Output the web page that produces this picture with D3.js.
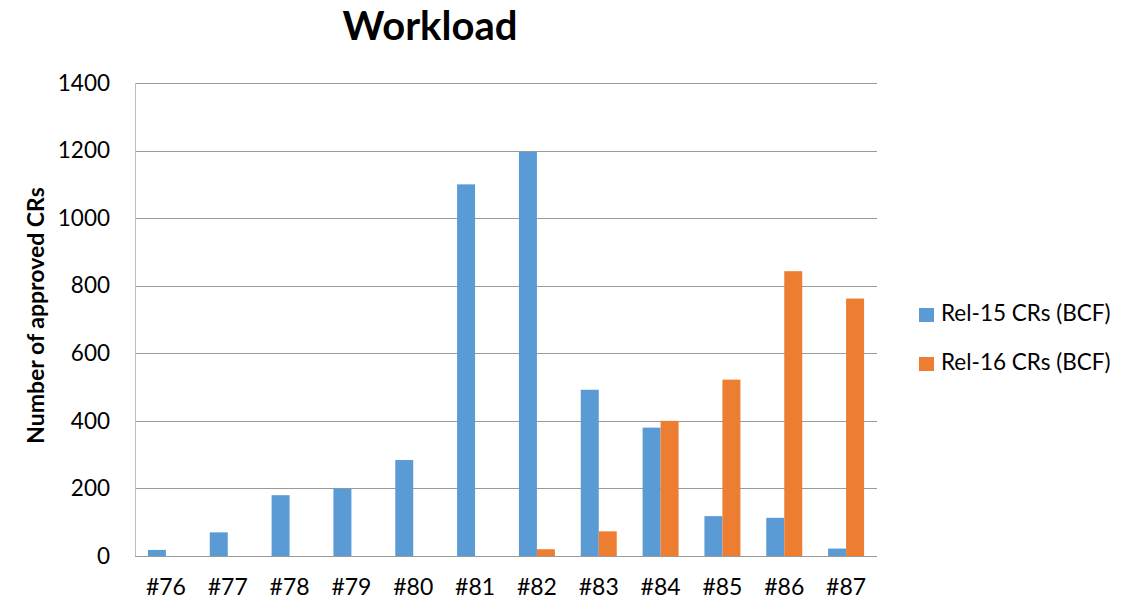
<!DOCTYPE html>
<html>
<head>
<meta charset="utf-8">
<script src="https://cdn.jsdelivr.net/npm/d3@7"></script>
<style>
  html, body { margin: 0; padding: 0; background: #fff; }
  svg { display: block; font-family: Lato, "Open Sans", sans-serif; }
</style>
</head>
<body>
<svg id="chart" width="1135" height="601"></svg>
<script>
// Meeting numbers on the x axis
const meetings = ["#76", "#77", "#78", "#79", "#80", "#81", "#82", "#83", "#84", "#85", "#86", "#87"];
// Approved CRs per meeting, per release
const rel15 = [18, 70, 180, 200, 284, 1100, 1196, 492, 380, 118, 113, 22];
const rel16 = [0, 0, 0, 0, 0, 0, 20, 73, 400, 522, 843, 762];
const seriesNames = ["Rel-15 CRs (BCF)", "Rel-16 CRs (BCF)"];
const seriesColors = ["#5B9BD5", "#ED7D31"];
const yTicks = [0, 200, 400, 600, 800, 1000, 1200, 1400];

const svg = d3.select("#chart");
const plot = { left: 135, right: 877, top: 83, bottom: 556 };

const x = d3.scaleBand()
  .domain(meetings)
  .range([plot.left, plot.right])
  .paddingInner(0.418)
  .paddingOuter(0.209);

const xSub = d3.scaleBand()
  .domain(seriesNames)
  .range([0, x.bandwidth()]);

const y = d3.scaleLinear()
  .domain([0, 1400])
  .range([plot.bottom, plot.top]);

// Horizontal gridlines
svg.append("g")
  .selectAll("line")
  .data(yTicks.filter(d => d > 0))
  .join("line")
  .attr("x1", plot.left)
  .attr("x2", plot.right)
  .attr("y1", d => Math.round(y(d)) + 0.5)
  .attr("y2", d => Math.round(y(d)) + 0.5)
  .attr("stroke", "#9a9a9a")
  .attr("stroke-width", 1);

// Left axis line
svg.append("line")
  .attr("x1", plot.left + 0.5).attr("x2", plot.left + 0.5)
  .attr("y1", plot.top).attr("y2", plot.bottom)
  .attr("stroke", "#bdbdbd");

// Y tick labels
const yAxis = d3.axisLeft(y).tickValues(yTicks).tickFormat(d3.format("d")).tickSize(0).tickPadding(25);
const gy = svg.append("g")
  .attr("transform", `translate(${plot.left},0)`)
  .call(yAxis);
gy.select(".domain").remove();
gy.selectAll("text")
  .attr("font-family", "Lato, sans-serif")
  .attr("font-size", 22.5)
  .attr("fill", "#000");

// Bars
const rows = meetings.map((m, i) => ({ meeting: m, values: [rel15[i], rel16[i]] }));
const groups = svg.append("g")
  .selectAll("g")
  .data(rows)
  .join("g")
  .attr("transform", d => `translate(${x(d.meeting)},0)`);

groups.selectAll("rect")
  .data(d => d.values.map((v, k) => ({ key: seriesNames[k], value: v, color: seriesColors[k] })))
  .join("rect")
  .attr("x", d => xSub(d.key))
  .attr("width", xSub.bandwidth())
  .attr("y", d => y(d.value))
  .attr("height", d => y(0) - y(d.value))
  .attr("fill", d => d.color);

// Bottom axis line
svg.append("line")
  .attr("x1", plot.left).attr("x2", plot.right)
  .attr("y1", plot.bottom + 0.5).attr("y2", plot.bottom + 0.5)
  .attr("stroke", "#9a9a9a");

// X tick labels
const xAxis = d3.axisBottom(x).tickSize(0).tickPadding(0);
const gx = svg.append("g")
  .attr("transform", `translate(0,${plot.bottom})`)
  .call(xAxis);
gx.select(".domain").remove();
gx.selectAll("text")
  .attr("font-family", "Lato, sans-serif")
  .attr("font-size", 23)
  .attr("fill", "#000")
  .attr("dy", null)
  .attr("y", 39);

// Title
svg.append("text")
  .attr("x", 430)
  .attr("y", 40)
  .attr("text-anchor", "middle")
  .attr("font-size", 40)
  .attr("font-weight", "bold")
  .attr("fill", "#000")
  .text("Workload");

// Y axis title
svg.append("text")
  .attr("transform", `translate(44,${(plot.top + plot.bottom) / 2 - 4}) rotate(-90)`)
  .attr("text-anchor", "middle")
  .attr("font-size", 23)
  .attr("font-weight", "bold")
  .attr("fill", "#000")
  .text("Number of approved CRs");

// Legend
const legend = svg.append("g")
  .selectAll("g")
  .data(seriesNames)
  .join("g")
  .attr("transform", (d, i) => `translate(919,${308 + i * 49})`);

legend.append("rect")
  .attr("width", 15)
  .attr("height", 14)
  .attr("fill", (d, i) => seriesColors[i]);

legend.append("text")
  .attr("x", 22)
  .attr("y", 13)
  .attr("font-size", 22.5)
  .attr("fill", "#000")
  .text(d => d);
</script>
</body>
</html>
